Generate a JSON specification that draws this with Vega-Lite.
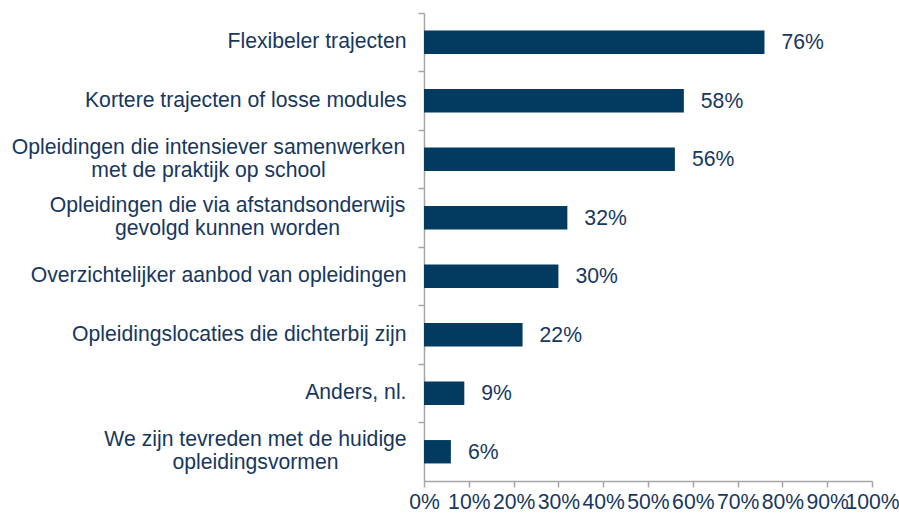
{
  "$schema": "https://vega.github.io/schema/vega-lite/v6.json",
  "width": 448,
  "height": 468,
  "autosize": {"type": "none"},
  "padding": {"left": 424, "top": 13, "right": 27, "bottom": 32},
  "background": "white",
  "config": {
    "view": {"stroke": null},
    "font": "Liberation Sans",
    "axis": {"labelFont": "Liberation Sans", "labelColor": "#17375E", "labelFontSize": 21.2, "domainColor": "#A6A6A6", "tickColor": "#A6A6A6", "grid": false, "title": null}
  },
  "data": {
    "values": [
      {"category": "Flexibeler trajecten", "value": 0.76},
      {"category": "Kortere trajecten of losse modules", "value": 0.58},
      {"category": "Opleidingen die intensiever samenwerken|met de praktijk op school", "value": 0.56},
      {"category": "Opleidingen die via afstandsonderwijs|gevolgd kunnen worden", "value": 0.32},
      {"category": "Overzichtelijker aanbod van opleidingen", "value": 0.30},
      {"category": "Opleidingslocaties die dichterbij zijn", "value": 0.22},
      {"category": "Anders, nl.", "value": 0.09},
      {"category": "We zijn tevreden met de huidige|opleidingsvormen", "value": 0.06}
    ]
  },
  "encoding": {
    "y": {
      "field": "category",
      "type": "nominal",
      "sort": null,
      "scale": {"paddingInner": 0, "paddingOuter": 0},
      "axis": {
        "labelExpr": "split(datum.label, '|')",
        "bandPosition": 0,
        "tickSize": 6,
        "labelPadding": {
          "condition": [
            {"test": "indexof(datum.label, 'intensiever') >= 0", "value": 210},
            {"test": "indexof(datum.label, 'afstandsonderwijs') >= 0", "value": 191},
            {"test": "indexof(datum.label, 'tevreden') >= 0", "value": 163}
          ],
          "value": 12
        },
        "labelAlign": {"condition": {"test": "indexof(datum.label, '|') >= 0", "value": "center"}, "value": "right"},
        "labelOffset": {"condition": {"test": "indexof(datum.label, '|') >= 0", "value": -11.5}, "value": 0},
        "labelLineHeight": 23,
        "labelLimit": 500,
        "domainWidth": 1.5,
        "tickWidth": 1.5
      }
    },
    "x": {
      "field": "value",
      "type": "quantitative",
      "scale": {"domain": [0, 1], "nice": false},
      "axis": {
        "values": [0, 0.1, 0.2, 0.3, 0.4, 0.5, 0.6, 0.7, 0.8, 0.9, 1],
        "format": ".0%",
        "tickSize": 6,
        "labelPadding": 4,
        "labelOverlap": false,
        "labelFlush": false,
        "domainWidth": 1.5,
        "tickWidth": 1.5
      }
    }
  },
  "layer": [
    {
      "mark": {"type": "bar", "color": "#023B5F", "height": {"band": 0.4}}
    },
    {
      "mark": {"type": "text", "align": "left", "baseline": "middle", "dx": 17, "dy": 1, "fontSize": 21.2, "color": "#17375E", "font": "Liberation Sans"},
      "encoding": {"text": {"field": "value", "type": "quantitative", "format": ".0%"}}
    }
  ]
}
